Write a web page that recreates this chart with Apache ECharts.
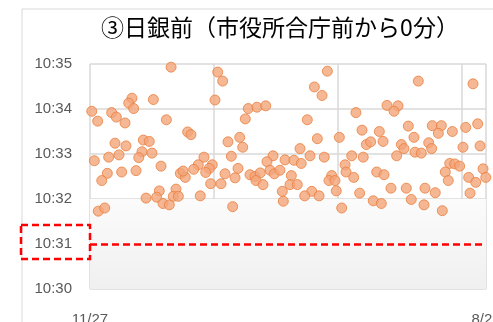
<!DOCTYPE html>
<html>
<head>
<meta charset="utf-8">
<script src="https://cdn.jsdelivr.net/npm/echarts@6/dist/echarts.min.js"></script>
<style>
  html, body { margin: 0; padding: 0; background: #fff; }
  #main { width: 493px; height: 322px; }
</style>
</head>
<body>
<div id="main"></div>
<script>
// 日付インデックス（11/27 からの日数）
var dayIndex = [
    65.5, 33.9, 31.3, 35.3, 51.2, 1.4, 6.2, 17.5, 21.3, 28.3, 61.7, 78.9, 20.2, 29.1, 43.1, 47.9,
    42.0, 39.4, 50.1, 3.5, 15.1, 23.4, 57.4, 37.2, 25.6, 14.0, 9.5, 73.0, 77.0, 75.2, 56.0, 53.9,
    45.3, 59.0, 64.1, 69.5, 67.3, 71.4, 6.7, 11.9,
    103.2, 107.2, 101.0, 127.9, 134.9, 142.0, 125.5, 81.6, 111.5, 121.0, 123.4, 114.2, 92.1, 87.5,
    83.8, 98.8, 96.4, 93.5, 119.6, 109.1, 117.2, 97.5, 105.9, 129.3, 133.3, 137.6, 134.1, 139.8,
    147.9, 143.0, 145.5, 148.9, 153.5, 157.6, 89.1, 115.3, 155.4, 156.2,
    191.8, 181.3, 187.5, 214.9, 240.0, 175.6, 183.7, 201.5, 219.8, 233.8, 223.3, 226.8, 236.8,
    169.7, 164.8, 170.7, 177.8, 189.3, 211.5, 220.8, 206.1, 206.9, 213.1, 231.7, 237.6, 162.7,
    161.6, 167.5, 195.3, 193.1, 198.0, 199.0, 179.2, 173.5, 185.1, 217.9, 228.9, 235.4, 203.4,
    265.3, 309.5, 248.9, 245.7, 257.2, 276.6, 283.9, 281.5, 292.8, 303.6, 313.3, 261.8, 251.6,
    253.7, 262.6, 267.7, 273.7, 276.1, 247.8, 301.4, 315.2, 290.7, 294.7, 298.7, 287.1, 289.5,
    317.6, 306.0, 311.7, 319.8, 243.2, 255.6, 270.7, 279.0, 259.6, 269.9, 284.7, 307.1
];
// 到着時刻（10時からの分）
var arrivalMin = [
    34.93, 34.24, 34.13, 34.01, 34.21, 33.95, 33.73, 33.92, 33.82, 33.69, 33.76, 33.49, 33.24, 33.18, 33.31, 33.28,
    33.05, 32.92, 33.02, 32.85, 32.93, 32.98, 32.73, 32.63, 32.60, 32.57, 32.41, 32.57, 32.48, 32.62, 32.18, 32.04,
    32.02, 31.90, 31.87, 32.22, 32.06, 32.06, 31.73, 31.80,
    34.82, 34.62, 34.20, 34.01, 34.04, 34.07, 33.78, 33.43, 33.27, 33.37, 33.15, 32.95, 32.93, 32.76,
    32.66, 32.76, 32.68, 32.59, 32.68, 32.56, 32.47, 32.34, 32.34, 32.54, 32.50, 32.58, 32.41, 32.32,
    32.96, 32.83, 32.64, 32.56, 32.64, 32.87, 32.07, 31.83, 32.17, 31.95,
    34.84, 34.49, 34.30, 33.92, 34.08, 33.76, 33.34, 33.37, 33.53, 33.50, 33.21, 33.27, 33.28,
    33.12, 32.86, 32.79, 32.96, 32.93, 32.96, 32.93, 32.76, 32.60, 32.48, 32.60, 32.54, 32.52,
    32.32, 32.32, 32.52, 32.41, 32.41, 32.18, 32.17, 32.07, 32.07, 32.13, 31.96, 31.90, 31.80,
    34.62, 34.56, 34.07, 33.95, 33.62, 33.63, 33.63, 33.46, 33.50, 33.59, 33.67, 33.37, 33.21,
    33.12, 33.04, 33.02, 33.25, 33.12, 32.96, 33.15, 33.18, 32.79, 32.78, 32.73, 32.60, 32.41,
    32.67, 32.48, 32.37, 32.48, 32.24, 32.24, 32.24, 32.14, 31.99, 31.87, 31.74, 32.13
];
var xLabels = { 0: '11/27', 320: '8/28' };
var limitMin = 31;   // 赤破線 10:31

var points = [];
for (var i = 0; i < dayIndex.length; i++) {
    points.push([dayIndex[i], arrivalMin[i]]);
}

var myChart = echarts.init(document.getElementById('main'));

var option = {
    animation: false,
    title: {
        text: '③日銀前（市役所合庁前から0分）',
        left: 275,
        top: 11,
        textAlign: 'center',
        textStyle: {
            fontFamily: 'Noto Sans CJK JP',
            fontSize: 23,
            fontWeight: 'normal',
            color: '#000'
        }
    },
    grid: {
        left: 90,
        top: 64,
        right: 7,
        bottom: 33,
        outerBoundsMode: 'none'
    },
    graphic: [
        {
            type: 'rect',
            shape: { x: 22, y: 9, width: 520, height: 400 },
            style: { fill: 'none', stroke: '#d9d9d9', lineWidth: 1 },
            silent: true
        },
        {
            type: 'rect',
            shape: { x: 21, y: 225, width: 69, height: 34 },
            style: { fill: 'none', stroke: '#ff0000', lineWidth: 2.5, lineDash: [7, 4] },
            silent: true,
            z: 100
        }
    ],
    xAxis: {
        type: 'value',
        min: 0,
        max: 320,
        interval: 100,
        axisLine: { show: false },
        axisTick: { show: false },
        splitLine: { show: true, lineStyle: { color: '#d9d9d9', width: 1.5 } },
        axisLabel: {
            showMinLabel: true,
            showMaxLabel: true,
            margin: 23,
            fontSize: 15,
            fontFamily: 'Liberation Sans',
            color: '#595959',
            formatter: function (v) {
                return xLabels[v] || '';
            }
        }
    },
    yAxis: {
        type: 'value',
        min: 30,
        max: 35,
        interval: 1,
        axisLine: { show: false },
        axisTick: { show: false },
        splitLine: { show: true, lineStyle: { color: '#d9d9d9', width: 1.5 } },
        axisLabel: {
            margin: 18,
            fontSize: 15,
            fontFamily: 'Liberation Sans',
            color: '#595959',
            formatter: function (v) {
                return '10:' + ('0' + v).slice(-2);
            }
        }
    },
    series: [
        {
            name: '到着時刻',
            type: 'scatter',
            symbol: 'circle',
            symbolSize: 10,
            data: points,
            itemStyle: {
                color: '#f4a57a',
                borderColor: '#e9803f',
                borderWidth: 1
            },
            markArea: {
                silent: true,
                itemStyle: {
                    color: {
                        type: 'linear', x: 0, y: 0, x2: 0, y2: 1,
                        colorStops: [
                            { offset: 0, color: '#fbfbfb' },
                            { offset: 1, color: '#f0f0f0' }
                        ]
                    }
                },
                data: [[{ yAxis: 30 }, { yAxis: 32 }]]
            },
            markLine: {
                silent: true,
                symbol: 'none',
                label: { show: false },
                lineStyle: { color: '#ff0000', width: 2.5, type: [7, 4] },
                data: [{ yAxis: limitMin }]
            }
        }
    ]
};
myChart.setOption(option);
</script>
</body>
</html>
